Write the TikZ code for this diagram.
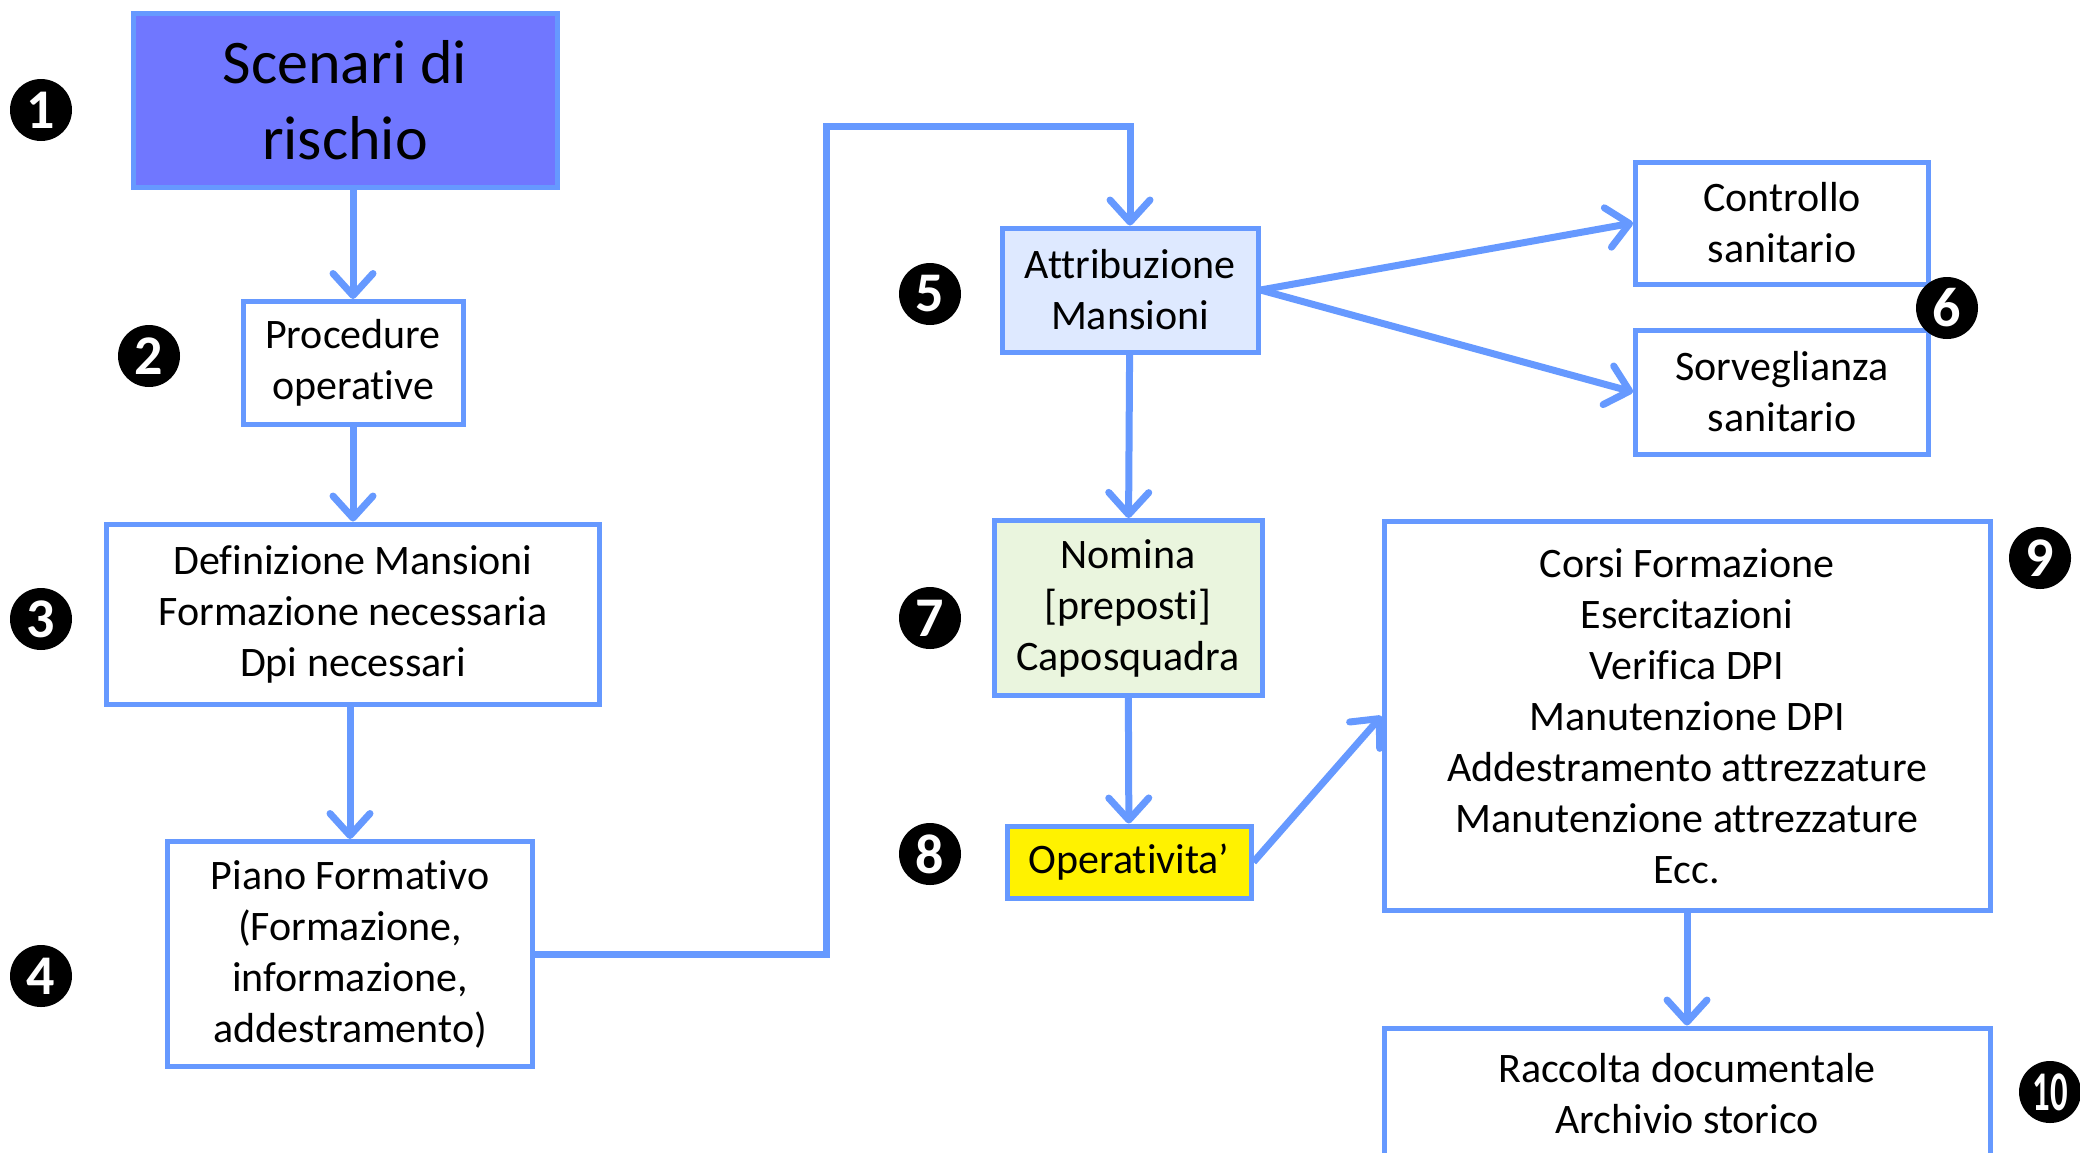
\documentclass[tikz,border=0pt]{standalone}
\usepackage{fontspec}
\setmainfont{Carlito}[Ligatures=NoCommon]
\usetikzlibrary{arrows.meta}
\definecolor{lineblue}{RGB}{102,153,255}
\definecolor{scenfill}{RGB}{112,119,255}
\definecolor{attrfill}{RGB}{222,233,255}
\definecolor{nomfill}{RGB}{234,245,222}

\begin{document}
\begin{tikzpicture}[x=1pt, y=-1pt,
		box/.style={draw=lineblue, line width=5pt, fill=white, align=center, inner sep=0pt,
			font=\fontsize{42}{51}\selectfont},
		num/.style={circle, fill=black, text=white, minimum size=62pt, inner sep=0pt,
			font=\bfseries\fontsize{56}{56}\selectfont},
		conn/.style={draw=lineblue, line width=7pt, -{Straight Barb[length=22pt,width=40pt,round]}}]
	\useasboundingbox (0,0) rectangle (2080,1152);

	% left column
	\node[box, fill=scenfill, minimum width=424pt, minimum height=174pt,
		font=\fontsize{62}{76}\selectfont] (scen) at (345,100) {Scenari di\\rischio};
	\node[box, minimum width=220pt, minimum height=123pt] (proc) at (353,363) {Procedure\\operative};
	\node[box, minimum width=493pt, minimum height=180pt] (defin) at (353,614)
		{Definizione Mansioni\\Formazione necessaria\\Dpi necessari};
	\node[box, minimum width=365pt, minimum height=225pt] (piano) at (350,954)
		{Piano Formativo\\(Formazione,\\informazione,\\addestramento)};

	% middle column
	\node[box, fill=attrfill, minimum width=256pt, minimum height=124pt] (attr) at (1130,290)
		{Attribuzione\\Mansioni};
	\node[box, fill=nomfill, minimum width=268pt, minimum height=175pt] (nomina) at (1128,608)
		{Nomina\\{[}preposti{]}\\Caposquadra};
	\node[box, fill=yellow, minimum width=244pt, minimum height=72pt] (oper) at (1129,862)
		{Operativita’};

	% right column
	\node[box, minimum width=293pt, minimum height=122pt] (contr) at (1782,223) {Controllo\\sanitario};
	\node[box, minimum width=293pt, minimum height=124pt] (sorv) at (1782,392) {Sorveglianza\\sanitario};
	\node[box, minimum width=606pt, minimum height=389pt] (corsi) at (1687,716)
		{Corsi Formazione\\Esercitazioni\\Verifica DPI\\Manutenzione DPI\\Addestramento attrezzature\\Manutenzione attrezzature\\Ecc.};
	\node[box, minimum width=606pt, minimum height=132pt] (racc) at (1687,1094)
		{Raccolta documentale\\Archivio storico};

	% step numbers
	\node[num] (n1) at (41,110) {1};
	\node[num] (n2) at (149,356) {2};
	\node[num] (n3) at (41,619) {3};
	\node[num] (n4) at (41,976) {4};
	\node[num] (n5) at (930,294) {5};
	\node[num] (n6) at (1947,308) {6};
	\node[num] (n7) at (930,618) {7};
	\node[num] (n8) at (930,854) {8};
	\node[num] (n9) at (2040,558) {9};
	\node[num] (n10) at (2050,1092) {\scalebox{0.62}[1]{10}};

	\coordinate (bend) at (826,126);

	\draw[conn] (scen.south -| proc.north) -- (proc.north);
	\draw[conn] (proc) -- (defin);
	\draw[conn] (defin.south -| piano.north) -- (piano.north);
	\draw[conn] (piano.east) -| (bend) -| (attr.north);
	\draw[conn] (attr.east) -- (contr.west);
	\draw[conn] (attr.east) -- (sorv.west);
	\draw[conn] (attr) -- (nomina);
	\draw[conn] (nomina) -- (oper);
	\draw[conn] (oper.east) -- (corsi.west);
	\draw[conn] (corsi) -- (racc);
\end{tikzpicture}
\end{document}
